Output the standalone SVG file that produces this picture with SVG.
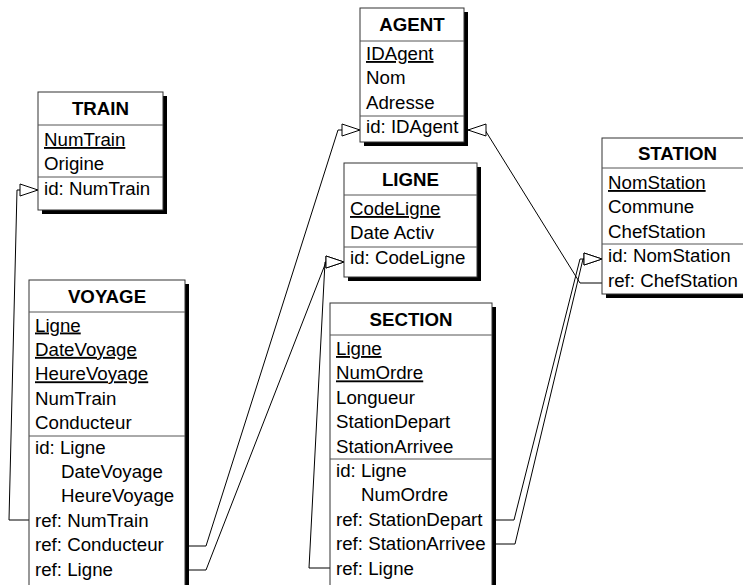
<svg xmlns="http://www.w3.org/2000/svg" width="743" height="585" viewBox="0 0 743 585">
<style>
  .bg { fill: #ffffff; }
  .shadow { fill: #000000; }
  .box { fill: #ffffff; stroke: #333333; stroke-width: 1; }
  .sep { stroke: #555555; stroke-width: 1; }
  text { font-family: "Liberation Sans", Arial, sans-serif; font-size: 18.7px; fill: #000000; }
  .title { font-weight: bold; text-anchor: middle; }
  .pk { text-decoration: underline; }
  .conn { fill: none; stroke: #000000; stroke-width: 1; marker-end: url(#tri); }
</style>
<defs>
  <marker id="tri" markerUnits="userSpaceOnUse" viewBox="-1 -1 20 14" markerWidth="20" markerHeight="14" refX="18" refY="6" orient="auto">
    <path d="M0,0 L18,6 L0,12 Z" fill="#ffffff" stroke="#000000" stroke-width="1"/>
  </marker>
</defs>
<rect class="bg" x="0" y="0" width="743" height="585"/>

<g id="connectors">
  <polyline class="conn" points="29,520 9,520 17,190 38,190"/>
  <polyline class="conn" points="189,546 206,546 338,130 360,130"/>
  <polyline class="conn" points="189,570 206,570 326,262 344,262"/>
  <polyline class="conn" points="330,568 309,568 325,262 344,262"/>
  <polyline class="conn" points="496,520 514,520 580,259 602,259"/>
  <polyline class="conn" points="496,544 515,544 583,259 602,259"/>
  <polyline class="conn" points="602,283 580,283 485,130 468,130"/>
</g>

<g id="agent">
  <rect class="shadow" x="364" y="12" width="104" height="134"/>
  <rect class="box" x="360" y="8" width="104" height="134"/>
  <line class="sep" x1="360" y1="41" x2="464" y2="41"/>
  <line class="sep" x1="360" y1="116" x2="464" y2="116"/>
  <text class="title" x="412" y="31">AGENT</text>
  <text class="pk" x="366" y="60">IDAgent</text>
  <text x="366" y="84.4">Nom</text>
  <text x="366" y="108.8">Adresse</text>
  <text x="366" y="133.2">id: IDAgent</text>
</g>

<g id="train">
  <rect class="shadow" x="42" y="96" width="125" height="118"/>
  <rect class="box" x="38" y="92" width="125" height="118"/>
  <line class="sep" x1="38" y1="125" x2="163" y2="125"/>
  <line class="sep" x1="38" y1="177" x2="163" y2="177"/>
  <text class="title" x="100.5" y="115">TRAIN</text>
  <text class="pk" x="44" y="146">NumTrain</text>
  <text x="44" y="170.4">Origine</text>
  <text x="44" y="194.8">id: NumTrain</text>
</g>

<g id="ligne">
  <rect class="shadow" x="348" y="167" width="133" height="114"/>
  <rect class="box" x="344" y="163" width="133" height="114"/>
  <line class="sep" x1="344" y1="195" x2="477" y2="195"/>
  <line class="sep" x1="344" y1="247" x2="477" y2="247"/>
  <text class="title" x="410.5" y="186">LIGNE</text>
  <text class="pk" x="350" y="215">CodeLigne</text>
  <text x="350" y="239.4">Date Activ</text>
  <text x="350" y="263.8">id: CodeLigne</text>
</g>

<g id="station">
  <rect class="shadow" x="606" y="142" width="151" height="156"/>
  <rect class="box" x="602" y="138" width="151" height="156"/>
  <line class="sep" x1="602" y1="168" x2="753" y2="168"/>
  <line class="sep" x1="602" y1="244" x2="753" y2="244"/>
  <text class="title" x="677.5" y="160">STATION</text>
  <text class="pk" x="608" y="189">NomStation</text>
  <text x="608" y="213.4">Commune</text>
  <text x="608" y="237.8">ChefStation</text>
  <text x="608" y="262.2">id: NomStation</text>
  <text x="608" y="286.6">ref: ChefStation</text>
</g>

<g id="voyage">
  <rect class="shadow" x="33" y="284" width="156" height="330"/>
  <rect class="box" x="29" y="280" width="156" height="330"/>
  <line class="sep" x1="29" y1="312" x2="185" y2="312"/>
  <line class="sep" x1="29" y1="436" x2="185" y2="436"/>
  <text class="title" x="107" y="303">VOYAGE</text>
  <text class="pk" x="35" y="331.5">Ligne</text>
  <text class="pk" x="35" y="355.9">DateVoyage</text>
  <text class="pk" x="35" y="380.3">HeureVoyage</text>
  <text x="35" y="404.7">NumTrain</text>
  <text x="35" y="429.1">Conducteur</text>
  <text x="35" y="453.5">id: Ligne</text>
  <text x="61" y="477.9">DateVoyage</text>
  <text x="61" y="502.3">HeureVoyage</text>
  <text x="35" y="526.7">ref: NumTrain</text>
  <text x="35" y="551.1">ref: Conducteur</text>
  <text x="35" y="575.5">ref: Ligne</text>
</g>

<g id="section">
  <rect class="shadow" x="334" y="307" width="162" height="300"/>
  <rect class="box" x="330" y="303" width="162" height="300"/>
  <line class="sep" x1="330" y1="335" x2="492" y2="335"/>
  <line class="sep" x1="330" y1="459" x2="492" y2="459"/>
  <text class="title" x="411" y="326">SECTION</text>
  <text class="pk" x="336" y="355">Ligne</text>
  <text class="pk" x="336" y="379.4">NumOrdre</text>
  <text x="336" y="403.8">Longueur</text>
  <text x="336" y="428.2">StationDepart</text>
  <text x="336" y="452.6">StationArrivee</text>
  <text x="336" y="477">id: Ligne</text>
  <text x="361" y="501.4">NumOrdre</text>
  <text x="336" y="525.8">ref: StationDepart</text>
  <text x="336" y="550.2">ref: StationArrivee</text>
  <text x="336" y="574.6">ref: Ligne</text>
</g>
</svg>
